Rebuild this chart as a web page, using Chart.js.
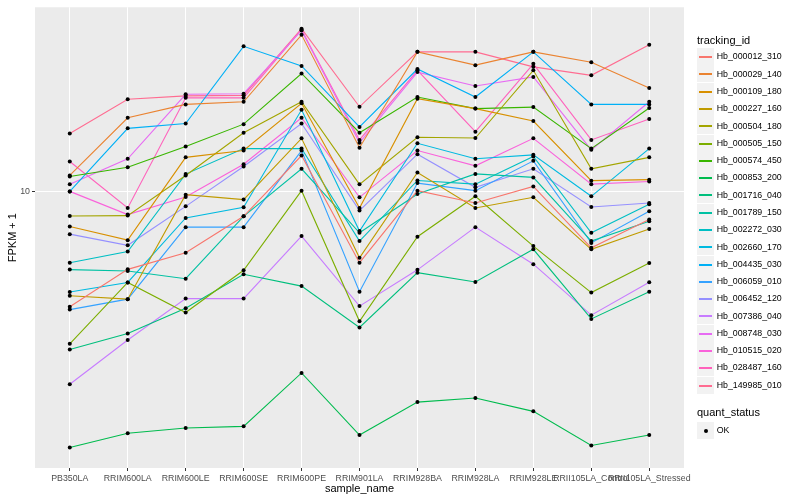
<!DOCTYPE html>
<html>
<head>
<meta charset="utf-8">
<script src="https://cdn.jsdelivr.net/npm/chart.js@4.4.0/dist/chart.umd.min.js"></script>
<style>
  body { margin: 0; background: #fff; }
  #wrap { position: relative; width: 800px; height: 500px; font-family: "Liberation Sans", Arial, sans-serif; }
  .lg { position: absolute; white-space: nowrap; color: #000; }
  .key { position: absolute; width: 17px; height: 17px; background: #F2F2F2; }
  .key span { position: absolute; left: 2px; right: 2px; top: 8px; height: 1.5px; }
  .key b { position: absolute; left: 6.5px; top: 6.5px; width: 4px; height: 4px; border-radius: 50%; background: #000; }
</style>
</head>
<body>
<div id="wrap"><canvas id="grafico"></canvas><div id="leyenda"></div></div>
<script>
// categorias y series (FPKM + 1)
const sampleNames = ['PB350LA', 'RRIM600LA', 'RRIM600LE', 'RRIM600SE', 'RRIM600PE', 'RRIM901LA',
  'RRIM928BA', 'RRIM928LA', 'RRIM928LE', 'RRII105LA_Control', 'RRII105LA_Stressed'];
const trackingIds = ['Hb_000012_310', 'Hb_000029_140', 'Hb_000109_180', 'Hb_000227_160', 'Hb_000504_180',
  'Hb_000505_150', 'Hb_000574_450', 'Hb_000853_200', 'Hb_001716_040', 'Hb_001789_150', 'Hb_002272_030',
  'Hb_002660_170', 'Hb_004435_030', 'Hb_006059_010', 'Hb_006452_120', 'Hb_007386_040', 'Hb_008748_030',
  'Hb_010515_020', 'Hb_028487_160', 'Hb_149985_010'];
const quantStatus = ['OK'];
const yTicks = [10];

const hb_000012_310 = [3.87, 5.27, 6.05, 8.17, 13.5, 5.57, 10.1, 9.12, 10.46, 6.30, 7.96];
const hb_000029_140 = [11.45, 18.45, 20.6, 21.05, 36.6, 14.4, 31.8, 28.5, 31.8, 29.2, 23.6];
const hb_000109_180 = [7.51, 6.71, 13.3, 14.07, 20.8, 8.75, 21.6, 19.9, 17.96, 10.97, 11.06];
const hb_000227_160 = [4.24, 4.12, 9.77, 9.38, 15.56, 5.80, 11.74, 8.75, 9.56, 6.22, 7.36];
const hb_000504_180 = [8.19, 8.22, 11.45, 16.3, 21.05, 10.64, 15.7, 15.6, 27.3, 12.1, 13.3];
const hb_000505_150 = [2.85, 4.73, 3.69, 5.23, 10.1, 3.43, 6.90, 9.64, 6.39, 4.35, 5.55];
const hb_000574_450 = [11.36, 12.26, 14.54, 17.5, 26.6, 16.3, 21.9, 19.9, 20.15, 14.3, 20.0];
const hb_000853_200 = [1.21, 1.36, 1.42, 1.44, 2.24, 1.34, 1.76, 1.82, 1.63, 1.23, 1.34];
const hb_001716_040 = [2.72, 3.10, 3.82, 5.06, 4.59, 3.26, 5.13, 4.75, 6.22, 3.50, 4.38];
const hb_001789_150 = [5.26, 5.20, 4.88, 8.17, 12.1, 7.13, 9.82, 11.6, 11.27, 6.66, 7.85];
const hb_002272_030 = [5.57, 6.11, 11.58, 14.3, 14.3, 6.66, 10.99, 10.66, 13.39, 7.13, 9.02];
const hb_002660_170 = [4.37, 4.73, 8.06, 8.80, 19.7, 7.23, 14.94, 13.14, 13.58, 9.64, 14.3];
const hb_004435_030 = [10.04, 16.9, 17.6, 33.3, 28.3, 17.1, 27.6, 21.9, 31.8, 20.6, 20.6];
const hb_006059_010 = [3.78, 4.12, 7.47, 7.47, 14.07, 4.38, 10.75, 10.1, 12.92, 6.56, 8.52];
const hb_006452_120 = [7.05, 6.43, 8.87, 12.33, 17.6, 8.57, 13.65, 10.38, 12.1, 8.82, 9.12];
const hb_007386_040 = [2.04, 2.94, 4.14, 4.14, 6.94, 3.89, 5.25, 7.47, 5.50, 3.61, 4.74];
const hb_008748_030 = [10.66, 13.14, 22.4, 22.5, 37.96, 15.0, 26.9, 24.0, 25.85, 14.15, 21.05];
const hb_010515_020 = [10.04, 8.29, 9.58, 12.57, 18.45, 9.56, 14.07, 12.4, 15.56, 10.66, 10.9];
const hb_028487_160 = [12.85, 8.75, 21.75, 21.75, 38.2, 15.36, 27.3, 16.45, 28.8, 15.36, 18.25];
const hb_149985_010 = [16.2, 21.5, 22.1, 22.2, 38.5, 20.2, 31.8, 31.8, 28.1, 26.2, 33.7];

const series = [hb_000012_310, hb_000029_140, hb_000109_180, hb_000227_160, hb_000504_180,
  hb_000505_150, hb_000574_450, hb_000853_200, hb_001716_040, hb_001789_150, hb_002272_030,
  hb_002660_170, hb_004435_030, hb_006059_010, hb_006452_120, hb_007386_040, hb_008748_030,
  hb_010515_020, hb_028487_160, hb_149985_010];

// paleta hue de ggplot para 20 grupos
const colores = ['#F8766D', '#EA8331', '#D89000', '#C09B00', '#A3A500', '#7CAE00', '#39B600', '#00BB4E',
  '#00BF7D', '#00C1A3', '#00BFC4', '#00BAE0', '#00B0F6', '#35A2FF', '#9590FF', '#C77CFF', '#E76BF3',
  '#FA62DB', '#FF62BC', '#FF6C91'];

const fam = '"Liberation Sans", Arial, sans-serif';

const datasets = series.map((vals, k) => ({
  label: trackingIds[k],
  data: vals.map((v, i) => ({ x: i, y: v })),
  showLine: true,
  borderColor: colores[k],
  borderWidth: 1.1,
  pointRadius: 0,
  tension: 0,
  order: 2
}));
datasets.push({
  label: quantStatus[0],
  data: series.flatMap(vals => vals.map((v, i) => ({ x: i, y: v }))),
  showLine: false,
  pointRadius: 2,
  pointBackgroundColor: '#000',
  pointBorderWidth: 0,
  order: 1
});

const fondoPanel = {
  id: 'fondoPanel',
  beforeDraw(chart) {
    const a = chart.chartArea;
    const ctx = chart.ctx;
    ctx.save();
    ctx.fillStyle = '#EBEBEB';
    ctx.fillRect(a.left, a.top, a.right - a.left, a.bottom - a.top);
    ctx.restore();
  }
};

new Chart(document.getElementById('grafico'), {
  type: 'scatter',
  data: { datasets: datasets },
  plugins: [fondoPanel],
  options: {
    responsive: true,
    maintainAspectRatio: false,
    animation: false,
    layout: { padding: { top: 5, right: 116, bottom: 0, left: 0 } },
    plugins: { legend: { display: false }, tooltip: { enabled: false } },
    scales: {
      x: {
        type: 'linear',
        min: -0.6,
        max: 10.6,
        afterBuildTicks: s => { s.ticks = sampleNames.map((n, i) => ({ value: i })); },
        afterFit: s => { s.height = 32; },
        ticks: {
          callback: v => sampleNames[v],
          autoSkip: false, maxRotation: 0, minRotation: 0,
          color: '#4D4D4D', font: { size: 8.8, family: fam }, padding: 2
        },
        grid: { color: '#fff', lineWidth: 1, tickLength: 3, tickColor: '#333' },
        border: { display: false },
        title: { display: true, text: 'sample_name', color: '#000', font: { size: 11, family: fam }, padding: { top: 0, bottom: 4 } }
      },
      y: {
        type: 'logarithmic',
        min: 1.0208,
        max: 45.97,
        afterBuildTicks: s => { s.ticks = yTicks.map(v => ({ value: v })); },
        afterFit: s => { s.width = 35; },
        ticks: {
          callback: v => String(v),
          color: '#4D4D4D', font: { size: 8.8, family: fam }, padding: 2
        },
        grid: { color: '#fff', lineWidth: 1, tickLength: 3, tickColor: '#333' },
        border: { display: false },
        title: { display: true, text: 'FPKM + 1', color: '#000', font: { size: 11, family: fam }, padding: { top: 6, bottom: 0 } }
      }
    }
  }
});

// leyenda estilo ggplot
const leyenda = document.getElementById('leyenda');
function texto(t, x, cy, size) {
  const d = document.createElement('div');
  d.className = 'lg';
  d.style.left = x + 'px';
  d.style.top = (cy - size * 0.6) + 'px';
  d.style.fontSize = size + 'px';
  d.style.lineHeight = (size * 1.2) + 'px';
  d.textContent = t;
  leyenda.appendChild(d);
}
function caja(cy) {
  const k = document.createElement('div');
  k.className = 'key';
  k.style.left = '697px';
  k.style.top = Math.round(cy - 8.5) + 'px';
  leyenda.appendChild(k);
  return k;
}
texto('tracking_id', 697, 40.7, 11);
trackingIds.forEach((id, k) => {
  const cy = 56.7 + 17.28 * k;
  const s = document.createElement('span');
  s.style.background = colores[k];
  caja(cy).appendChild(s);
  texto(id, 716.7, cy, 8.8);
});
texto('quant_status', 697, 412.7, 11);
quantStatus.forEach((q, k) => {
  const cy = 430.5 + 17.28 * k;
  caja(cy).appendChild(document.createElement('b'));
  texto(q, 716.7, cy, 8.8);
});
</script>
</body>
</html>
